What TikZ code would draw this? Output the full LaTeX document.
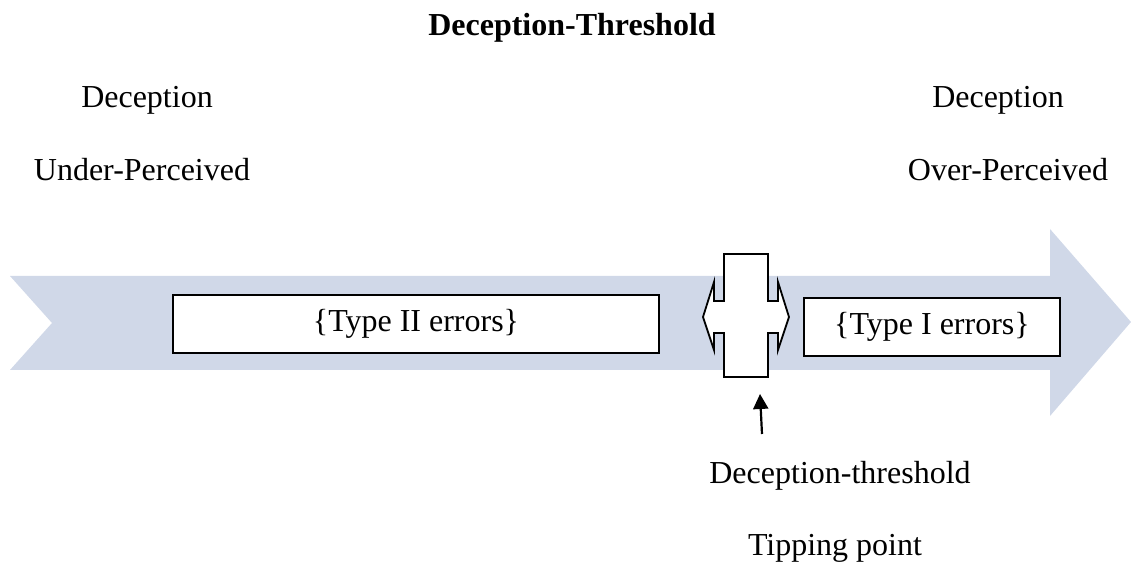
\documentclass[tikz,border=0pt]{standalone}
\usepackage{fontspec}
\setmainfont{Liberation Serif}
\usetikzlibrary{arrows.meta}
\definecolor{bandblue}{RGB}{208,216,232}
\begin{document}
\begin{tikzpicture}[x=0.5pt,y=-0.5pt,
  lbl/.style={font=\fontsize{16}{19}\selectfont, inner sep=0pt, anchor=base},
  errbox/.style={draw=black, line width=0.9pt, fill=white, inner sep=0pt, font=\fontsize{16}{19}\selectfont},
  pointer/.style={line width=1.1pt, -{Triangle[length=7.5pt,width=7.5pt]}}]
\useasboundingbox (0,0) rectangle (1131,565);
% band arrow
\fill[bandblue] (10,276) -- (1050,276) -- (1050,229) -- (1131,322) -- (1050,416) -- (1050,370) -- (10,370) -- (52,323) -- cycle;
% boxes
\node[errbox, minimum width=243pt, minimum height=29pt] (t2) at (416,324) {\{Type II errors\}};
\node[errbox, minimum width=128pt, minimum height=29pt] (t1) at (932,327) {\{Type I errors\}};
% cross / threshold
\draw[line width=0.9pt, fill=white] (724,254) -- (768,254) -- (768,301) -- (778,301) -- (778,282) -- (789,317) -- (778,350) -- (778,333) -- (768,333) -- (768,377) -- (724,377) -- (724,333) -- (714,333) -- (714,350) -- (703,317) -- (714,282) -- (714,301) -- (724,301) -- cycle;
% texts
\node[lbl, font=\fontsize{16}{19}\selectfont\bfseries] (title) at (572,36) {Deception-Threshold};
\node[lbl] (dl) at (147,108) {Deception};
\node[lbl] (ul) at (142,181) {Under-Perceived};
\node[lbl] (dr) at (998,108) {Deception};
\node[lbl] (or) at (1008,181) {Over-Perceived};
\node[lbl] (dt) at (840,484) {Deception-threshold};
\node[lbl] (tp) at (835,556) {Tipping point};
% pointer
\coordinate (ptail) at (762,434);
\coordinate (ptip) at (760,394);
\draw[pointer] (ptail) -- (ptip);
\end{tikzpicture}
\end{document}
